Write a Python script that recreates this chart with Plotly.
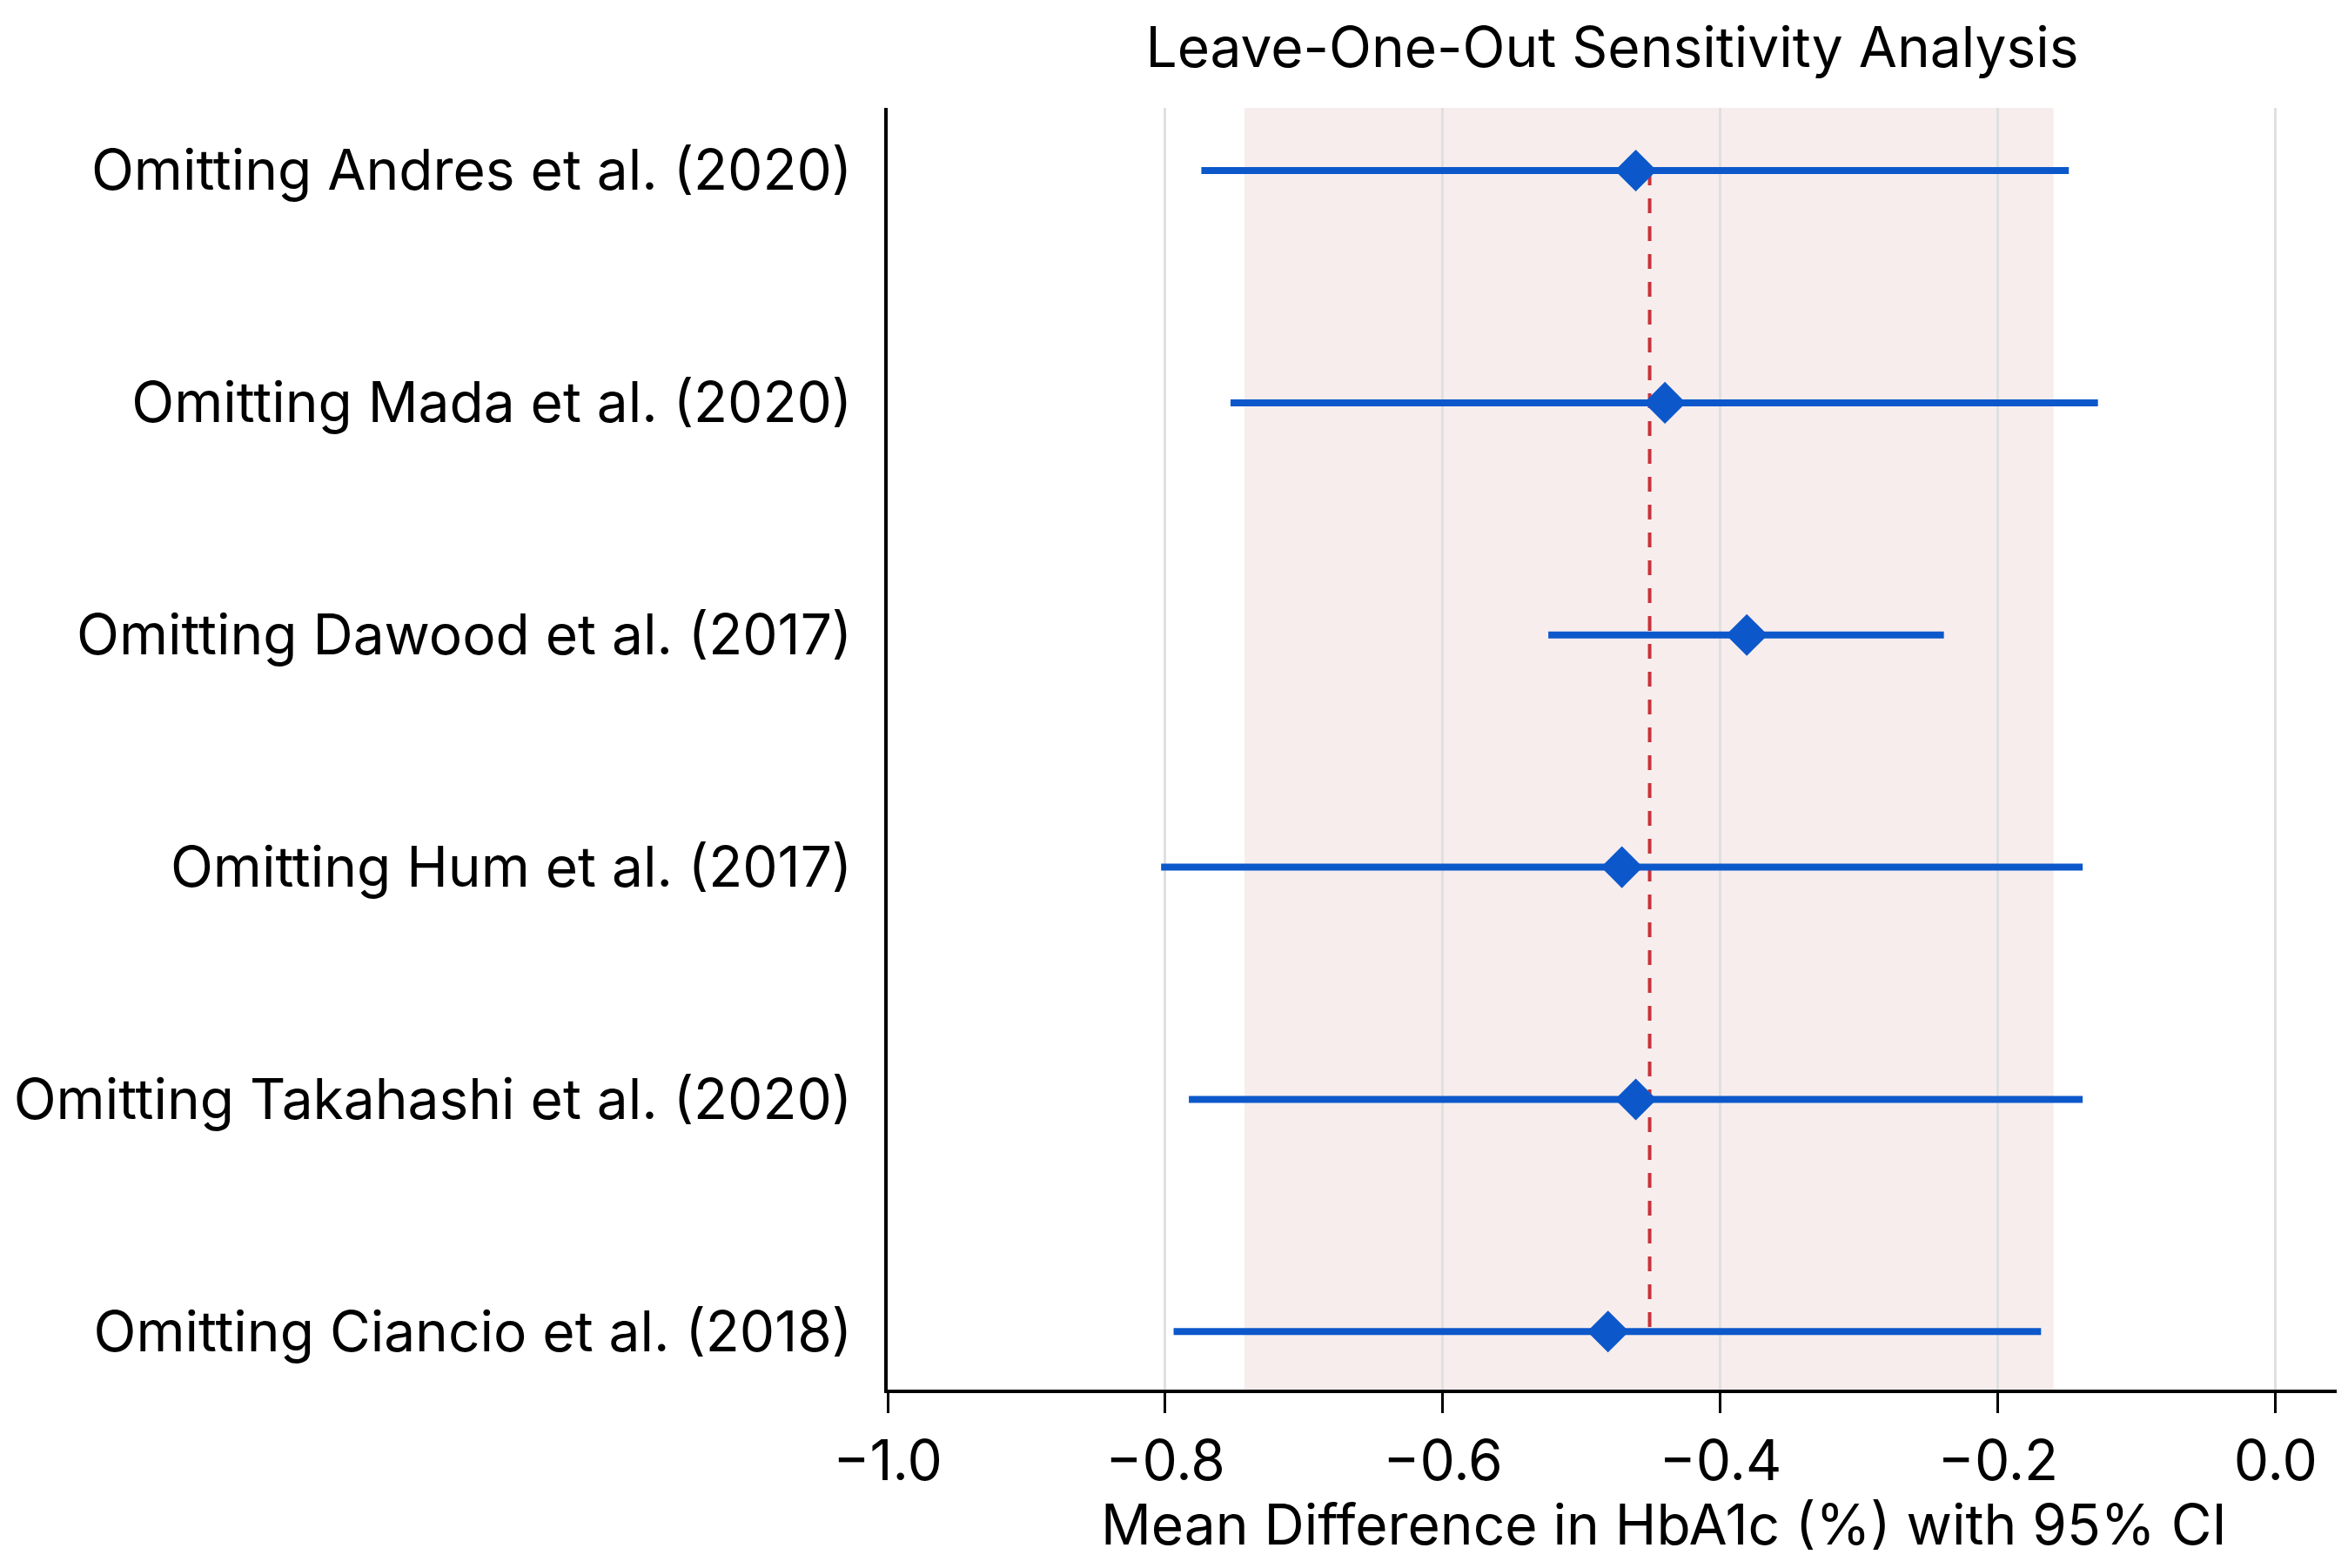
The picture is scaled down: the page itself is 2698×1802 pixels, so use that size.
import plotly.graph_objects as go

# ---- data ----
studies = [
    "Omitting Andres et al. (2020)",
    "Omitting Mada et al. (2020)",
    "Omitting Dawood et al. (2017)",
    "Omitting Hum et al. (2017)",
    "Omitting Takahashi et al. (2020)",
    "Omitting Ciancio et al. (2018)",
]
effect = [-0.461, -0.440, -0.381, -0.471, -0.461, -0.481]
ci_low = [-0.774, -0.753, -0.524, -0.803, -0.783, -0.794]
ci_high = [-0.149, -0.128, -0.239, -0.139, -0.139, -0.169]
pooled = -0.451
pooled_ci = [-0.743, -0.160]
x_ticks = [-1.0, -0.8, -0.6, -0.4, -0.2, 0.0]
x_ticktext = ["\u22121.0", "\u22120.8", "\u22120.6", "\u22120.4", "\u22120.2", "0.0"]
x_title = "Mean Difference in HbA1c (%) with 95% CI"

BLUE = "#0c58cb"
FONT = "Inter"
FS = 64

W, H = 2690, 1794  # page body has an 8px margin

fig = go.Figure()

# pooled estimate dashed line (behind the study marks)
fig.add_trace(go.Scatter(
    x=[pooled, pooled], y=[studies[0], studies[-1]],
    mode="lines", line=dict(color="#c8323a", width=4, dash="17px,15px"),
    showlegend=False, hoverinfo="skip",
))

err_plus = [h - e for h, e in zip(ci_high, effect)]
err_minus = [e - l for e, l in zip(effect, ci_low)]

fig.add_trace(go.Scatter(
    x=effect, y=studies, mode="markers",
    marker=dict(symbol="diamond", size=37, color=BLUE, line=dict(width=0)),
    error_x=dict(type="data", symmetric=False, array=err_plus,
                 arrayminus=err_minus, color=BLUE, thickness=8, width=0),
    showlegend=False,
))

# pooled CI band
fig.add_shape(type="rect", xref="x", yref="paper",
              x0=pooled_ci[0], x1=pooled_ci[1], y0=0, y1=1,
              fillcolor="#f7eded", line=dict(width=0), layer="below")

# x-axis title (placed as in the reference, slightly right of centre)
fig.add_annotation(text=x_title, xref="paper", yref="paper",
                   x=0.536, y=-0.105, xanchor="center", yanchor="middle",
                   showarrow=False,
                   font=dict(family=FONT, size=FS, color="black"))

fig.update_layout(
    width=W, height=H,
    margin=dict(l=1012, r=13, t=116, b=205),
    paper_bgcolor="white", plot_bgcolor="white",
    font=dict(family=FONT, size=FS, color="black"),
    title=dict(text="Leave-One-Out Sensitivity Analysis",
               x=0.5, xref="paper", xanchor="center",
               y=1 - 47 / H, yref="container", yanchor="middle",
               font=dict(family=FONT, size=FS, color="black")),
)

fig.update_xaxes(
    range=[-1.0, 0.044],
    tickvals=x_ticks, ticktext=x_ticktext,
    ticks="outside", ticklen=23, tickwidth=3, tickcolor="black",
    showline=True, linecolor="black", linewidth=4,
    showgrid=True, gridcolor="#e0e0e0", gridwidth=3,
    zeroline=False,
    tickfont=dict(family=FONT, size=FS, color="black"),
    automargin=False,
)

fig.update_yaxes(
    type="category", categoryorder="array", categoryarray=studies,
    range=[5.25, -0.27],
    showline=True, linecolor="black", linewidth=4,
    showgrid=False, zeroline=False, ticks="",
    ticklabelstandoff=24,
    tickfont=dict(family=FONT, size=FS, color="black"),
    automargin=False,
)

fig.write_html("out.html")
